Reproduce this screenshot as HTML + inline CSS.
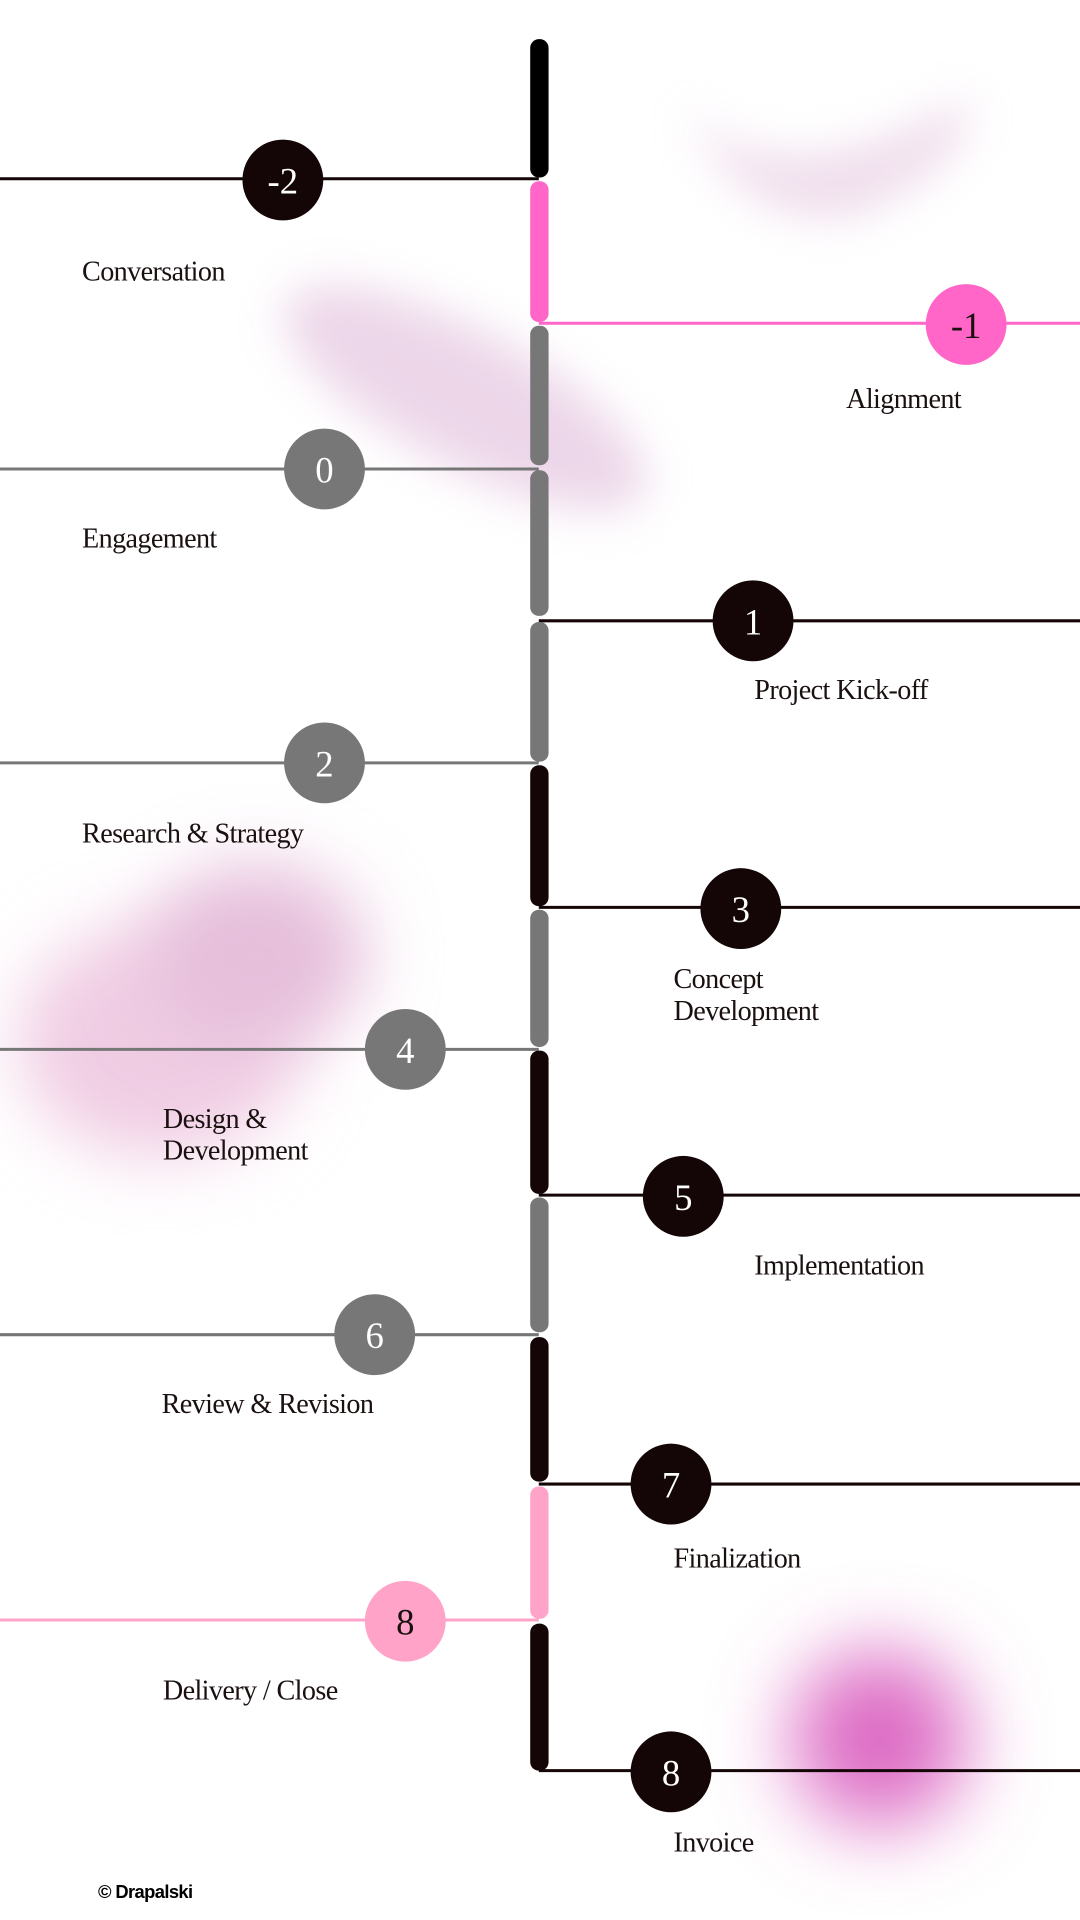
<!DOCTYPE html>
<html><head><meta charset="utf-8"><style>
html,body{margin:0;padding:0;background:#fff;width:1080px;height:1920px;overflow:hidden}
svg{display:block}
.n{font-family:"Liberation Serif",serif;font-size:30px;fill:#fff;text-anchor:middle}
.l{font-family:"Liberation Serif",serif;font-size:23px;fill:#1a1010;letter-spacing:-0.5px}
</style></head><body>
<svg width="1080" height="1920" viewBox="0 0 882 1568" xmlns="http://www.w3.org/2000/svg">
<defs>
<filter id="b1" x="-50%" y="-50%" width="200%" height="200%"><feGaussianBlur stdDeviation="18"/></filter>
<filter id="b2" x="-50%" y="-50%" width="200%" height="200%"><feGaussianBlur stdDeviation="28"/></filter>
<filter id="b3" x="-50%" y="-50%" width="200%" height="200%"><feGaussianBlur stdDeviation="32"/></filter>
</defs>
<!-- blobs -->
<path d="M560 90 Q640 170 790 80 Q800 130 700 175 Q610 190 560 90 Z" fill="#ecd6e8" filter="url(#b1)" opacity="0.85"/>
<ellipse cx="380" cy="325" rx="165" ry="55" fill="#e9cfe5" transform="rotate(28 380 325)" filter="url(#b1)" opacity="0.85"/>
<ellipse cx="130" cy="850" rx="115" ry="95" fill="#f0cce3" filter="url(#b2)"/>
<ellipse cx="210" cy="780" rx="90" ry="75" fill="#e6bfdb" filter="url(#b2)"/>
<circle cx="718" cy="1420" r="72" fill="#dd6cc4" filter="url(#b3)"/>
<!-- lines -->
<line x1="0" y1="146" x2="440" y2="146" stroke="#140606" stroke-width="2.5"/>
<line x1="440" y1="264" x2="882" y2="264" stroke="#ff66c8" stroke-width="2.5"/>
<line x1="0" y1="383" x2="440" y2="383" stroke="#777" stroke-width="2.5"/>
<line x1="440" y1="507" x2="882" y2="507" stroke="#140606" stroke-width="2.5"/>
<line x1="0" y1="623" x2="440" y2="623" stroke="#777" stroke-width="2.5"/>
<line x1="440" y1="741" x2="882" y2="741" stroke="#140606" stroke-width="2.5"/>
<line x1="0" y1="857" x2="440" y2="857" stroke="#777" stroke-width="2.5"/>
<line x1="440" y1="976" x2="882" y2="976" stroke="#140606" stroke-width="2.5"/>
<line x1="0" y1="1090" x2="440" y2="1090" stroke="#777" stroke-width="2.5"/>
<line x1="440" y1="1212" x2="882" y2="1212" stroke="#140606" stroke-width="2.5"/>
<line x1="0" y1="1323" x2="440" y2="1323" stroke="#ffa3c8" stroke-width="2.5"/>
<line x1="440" y1="1446" x2="882" y2="1446" stroke="#140606" stroke-width="2.5"/>
<!-- bar -->
<g>
<rect x="433" y="32" width="15" height="113" rx="7" fill="#000"/>
<rect x="433" y="148" width="15" height="115" rx="7" fill="#ff66c8"/>
<rect x="433" y="266" width="15" height="114" rx="7" fill="#777"/>
<rect x="433" y="384" width="15" height="119" rx="7" fill="#777"/>
<rect x="433" y="508" width="15" height="114" rx="7" fill="#777"/>
<rect x="433" y="625" width="15" height="115" rx="7" fill="#140606"/>
<rect x="433" y="743" width="15" height="112" rx="7" fill="#777"/>
<rect x="433" y="858" width="15" height="117" rx="7" fill="#140606"/>
<rect x="433" y="978" width="15" height="110" rx="7" fill="#777"/>
<rect x="433" y="1092" width="15" height="118" rx="7" fill="#140606"/>
<rect x="433" y="1214" width="15" height="108" rx="7" fill="#ffa3c8"/>
<rect x="433" y="1326" width="15" height="120" rx="7" fill="#140606"/>
</g>
<!-- circles -->
<circle cx="231" cy="147" r="33" fill="#140606"/><text class="n" x="231" y="158">-2</text>
<circle cx="789" cy="265" r="33" fill="#ff66c8"/><text class="n" x="789" y="276" style="fill:#1a1010">-1</text>
<circle cx="265" cy="383" r="33" fill="#777"/><text class="n" x="265" y="394">0</text>
<circle cx="615" cy="507" r="33" fill="#140606"/><text class="n" x="615" y="518">1</text>
<circle cx="265" cy="623" r="33" fill="#777"/><text class="n" x="265" y="634">2</text>
<circle cx="605" cy="742" r="33" fill="#140606"/><text class="n" x="605" y="753">3</text>
<circle cx="331" cy="857" r="33" fill="#777"/><text class="n" x="331" y="868">4</text>
<circle cx="558" cy="977" r="33" fill="#140606"/><text class="n" x="558" y="988">5</text>
<circle cx="306" cy="1090" r="33" fill="#777"/><text class="n" x="306" y="1101">6</text>
<circle cx="548" cy="1212" r="33" fill="#140606"/><text class="n" x="548" y="1223">7</text>
<circle cx="331" cy="1324" r="33" fill="#ffa3c8"/><text class="n" x="331" y="1335" style="fill:#1a1010">8</text>
<circle cx="548" cy="1447" r="33" fill="#140606"/><text class="n" x="548" y="1458">8</text>
<!-- labels -->
<text class="l" x="67" y="229">Conversation</text>
<text class="l" x="691" y="333">Alignment</text>
<text class="l" x="67" y="447">Engagement</text>
<text class="l" x="616" y="571">Project Kick-off</text>
<text class="l" x="67" y="688">Research &amp; Strategy</text>
<text class="l" x="550" y="807">Concept</text>
<text class="l" x="550" y="833">Development</text>
<text class="l" x="133" y="921">Design &amp;</text>
<text class="l" x="133" y="947">Development</text>
<text class="l" x="616" y="1041">Implementation</text>
<text class="l" x="132" y="1154">Review &amp; Revision</text>
<text class="l" x="550" y="1280">Finalization</text>
<text class="l" x="133" y="1388">Delivery / Close</text>
<text class="l" x="550" y="1512">Invoice</text>
<text x="80" y="1550" style="font-family:'Liberation Sans',sans-serif;font-weight:bold;font-size:15px;fill:#000;letter-spacing:-0.5px">© Drapalski</text>
</svg>
</body></html>
